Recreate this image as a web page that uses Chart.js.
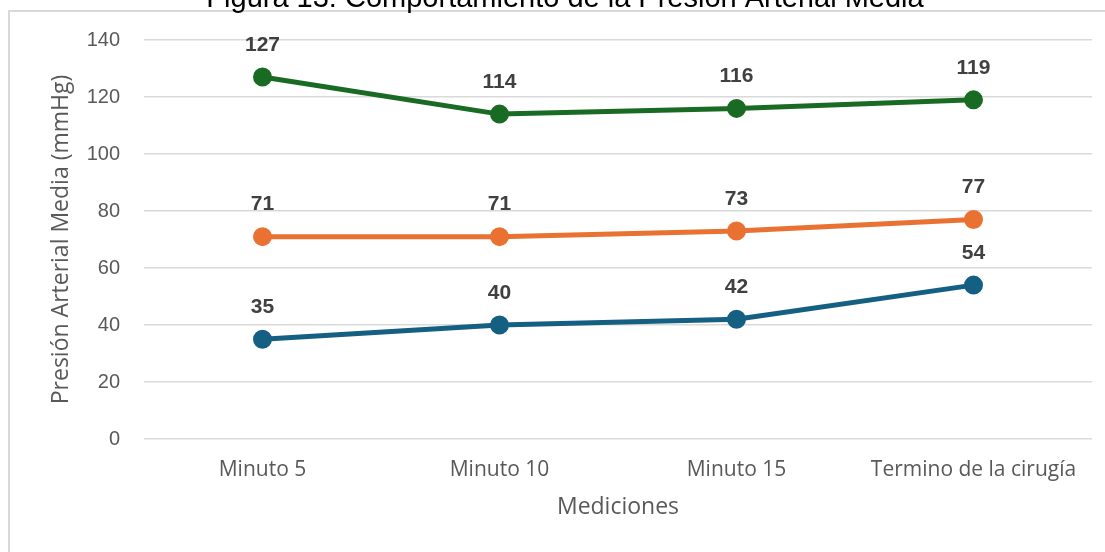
<!DOCTYPE html>
<html>
<head>
<meta charset="utf-8">
<script src="https://cdn.jsdelivr.net/npm/chart.js@4/dist/chart.umd.min.js"></script>
<style>
  html, body { margin: 0; padding: 0; background: #fff; overflow: hidden; }
  #frame {
    position: absolute; left: 8px; top: 10px; width: 1200px; height: 600px;
    border-left: 2px solid #d9d9d9; border-top: 2px solid #d9d9d9;
  }
  #wrap { position: absolute; left: 0; top: 0; width: 1105px; height: 552px; }
</style>
</head>
<body>
<div id="frame"></div>
<div id="wrap"><canvas id="chart" width="1105" height="552"></canvas></div>
<script>
// Figura 13 — Presión Arterial Media
const TITLE = "Figura 13: Comportamiento de la Presión Arterial Media";
const categories = ["Minuto 5", "Minuto 10", "Minuto 15", "Termino de la cirugía"];
const serieBaja  = [35, 40, 42, 54];
const serieMedia = [71, 71, 73, 77];
const serieAlta  = [127, 114, 116, 119];
const yTicks = [0, 20, 40, 60, 80, 100, 120, 140];

const SERIES = [
  { label: "Serie 1", data: serieBaja,  color: "#156082" },
  { label: "Serie 2", data: serieMedia, color: "#e97132" },
  { label: "Serie 3", data: serieAlta,  color: "#196b24" },
];

// value labels above each point
const valueLabels = {
  id: "valueLabels",
  afterDatasetsDraw(chart) {
    const ctx = chart.ctx;
    ctx.save();
    ctx.font = "bold 21px 'Liberation Sans', Arial, sans-serif";
    ctx.fillStyle = "#404040";
    ctx.textAlign = "center";
    ctx.textBaseline = "middle";
    chart.data.datasets.forEach((ds, i) => {
      chart.getDatasetMeta(i).data.forEach((pt, j) => {
        ctx.fillText(ds.data[j], pt.x, pt.y - 32);
      });
    });
    ctx.restore();
  }
};

// title sits partly above the visible page
const topTitle = {
  id: "topTitle",
  afterDraw(chart) {
    const ctx = chart.ctx;
    ctx.save();
    ctx.font = "29px 'Liberation Sans', Arial, sans-serif";
    ctx.fillStyle = "#000";
    ctx.textAlign = "center";
    ctx.textBaseline = "alphabetic";
    ctx.fillText(TITLE, 565, 7);
    ctx.restore();
  }
};

new Chart(document.getElementById("chart"), {
  type: "line",
  data: {
    labels: categories,
    datasets: SERIES.map(s => ({
      label: s.label,
      data: s.data,
      borderColor: s.color,
      backgroundColor: s.color,
      borderWidth: 5,
      pointRadius: 7,
      pointHoverRadius: 7,
      pointBackgroundColor: s.color,
      pointBorderColor: s.color,
      tension: 0,
      fill: false,
    })),
  },
  options: {
    responsive: false,
    animation: false,
    layout: { padding: { top: 40, right: 13, bottom: 0, left: 0 } },
    plugins: {
      legend: { display: false },
      tooltip: { enabled: false },
      title: { display: false },
    },
    scales: {
      y: {
        min: 0,
        max: 140,
        afterBuildTicks: s => { s.ticks = yTicks.map(v => ({ value: v })); },
        afterFit: s => { s.width = 144; },
        ticks: {
          color: "#595959",
          padding: 24,
          font: { family: "'Liberation Sans', Arial, sans-serif", size: 20 },
        },
        grid: { color: "#d9d9d9", lineWidth: 1.5, drawTicks: false },
        border: { display: false },
        title: {
          display: true,
          text: "Presión Arterial Media (mmHg)",
          color: "#595959",
          padding: { top: 48, bottom: 0 },
          font: { family: "'Open Sans', sans-serif", size: 23 },
        },
      },
      x: {
        offset: true,
        afterFit: s => { s.height = 113; },
        ticks: {
          color: "#595959",
          padding: 18,
          maxRotation: 0,
          font: { family: "'Open Sans', sans-serif", size: 21 },
        },
        grid: { display: false, drawTicks: false, offset: true },
        border: { display: false },
        title: {
          display: true,
          text: "Mediciones",
          color: "#595959",
          padding: { top: 0, bottom: 31 },
          font: { family: "'Open Sans', sans-serif", size: 23 },
        },
      },
    },
  },
  plugins: [valueLabels, topTitle],
});
</script>
</body>
</html>
